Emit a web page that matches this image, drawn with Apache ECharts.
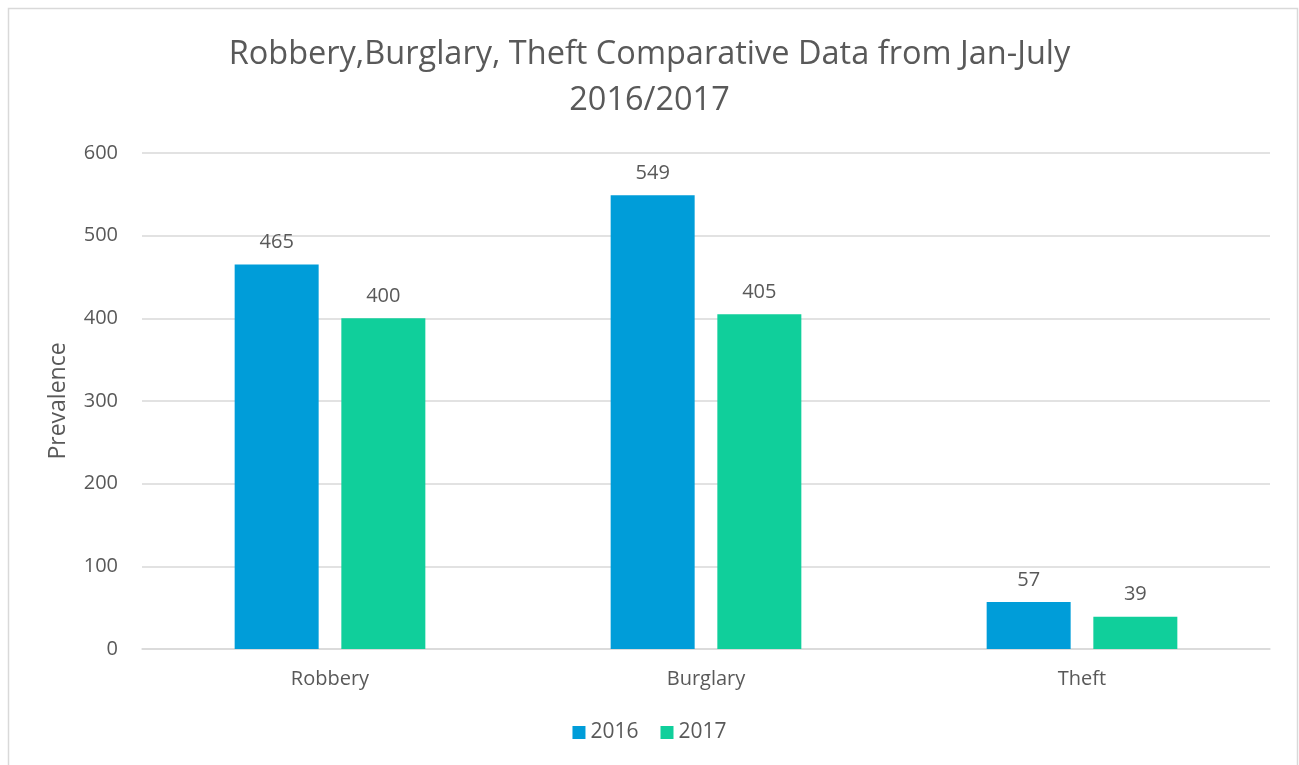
<!DOCTYPE html>
<html>
<head>
<meta charset="utf-8">
<script src="https://cdn.jsdelivr.net/npm/echarts@6/dist/echarts.min.js"></script>
<style>
  html, body { margin: 0; padding: 0; background: #fff; }
  #chart { width: 1299px; height: 765px; }
</style>
</head>
<body>
<div id="chart"></div>
<script>
// Datos
const categories = ['Robbery', 'Burglary', 'Theft'];
const values2016 = [465, 549, 57];
const values2017 = [400, 405, 39];
const seriesNames = ['2016', '2017'];

const textColor = '#595959';
const fontFamily = '"Open Sans", "Noto Sans", sans-serif';

const chart = echarts.init(document.getElementById('chart'));

const labelStyle = {
  show: true,
  position: 'top',
  distance: 12,
  color: textColor,
  fontSize: 20,
  fontFamily: fontFamily
};

const option = {
  animation: false,
  textStyle: { fontFamily: fontFamily },
  title: {
    text: 'Robbery,Burglary, Theft Comparative Data from Jan-July\n2016/2017',
    left: 'center',
    top: 27,
    textStyle: {
      color: textColor,
      fontSize: 32.5,
      fontWeight: 'normal',
      lineHeight: 46,
      fontFamily: fontFamily
    }
  },
  graphic: [{
    type: 'rect',
    shape: { x: 8.5, y: 8.5, width: 1289, height: 800 },
    style: { fill: 'none', stroke: '#d9d9d9', lineWidth: 1.5 },
    silent: true
  }],
  legend: {
    data: seriesNames,
    bottom: 17,
    left: 'center',
    itemWidth: 13,
    itemHeight: 13,
    itemGap: 22,
    icon: 'rect',
    textStyle: { color: textColor, fontSize: 21, fontFamily: fontFamily }
  },
  grid: {
    left: 142,
    right: 29,
    top: 153,
    bottom: 116
  },
  xAxis: {
    type: 'category',
    data: categories,
    axisLine: { lineStyle: { color: '#d9d9d9', width: 1.5 } },
    axisTick: { show: false },
    axisLabel: { color: textColor, fontSize: 20, margin: 20, fontFamily: fontFamily }
  },
  yAxis: {
    type: 'value',
    min: 0,
    max: 600,
    interval: 100,
    name: 'Prevalence',
    nameLocation: 'middle',
    nameGap: 72,
    nameTextStyle: { color: textColor, fontSize: 23, fontFamily: fontFamily },
    axisLine: { show: false },
    axisTick: { show: false },
    splitLine: { lineStyle: { color: '#d9d9d9', width: 1.5 } },
    axisLabel: { color: textColor, fontSize: 20, margin: 24, fontFamily: fontFamily }
  },
  series: [
    {
      name: seriesNames[0],
      type: 'bar',
      data: values2016,
      barWidth: 84,
      barGap: '27%',
      itemStyle: { color: '#009DD9' },
      label: labelStyle
    },
    {
      name: seriesNames[1],
      type: 'bar',
      data: values2017,
      barWidth: 84,
      barGap: '27%',
      itemStyle: { color: '#10CF9B' },
      label: labelStyle
    }
  ]
};

chart.setOption(option);
</script>
</body>
</html>
